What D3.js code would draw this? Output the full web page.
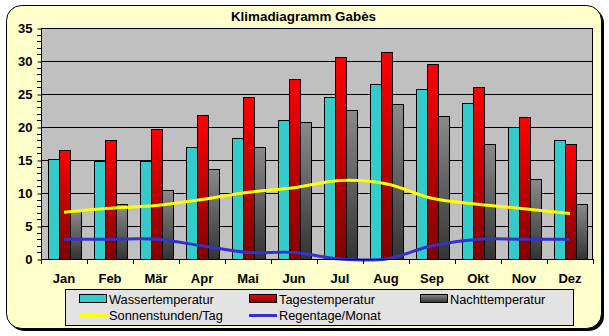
<!DOCTYPE html>
<html>
<head>
<meta charset="utf-8">
<script src="https://cdn.jsdelivr.net/npm/d3@7"></script>
<style>
  html, body { margin: 0; padding: 0; background: #ffffff; }
  svg { display: block; }
  text { font-family: "Liberation Sans", Arial, sans-serif; }
</style>
</head>
<body>
<svg id="chart" width="609" height="336"></svg>
<script>
// Klimadiagramm Gabès – monthly climate values
const months = ["Jan", "Feb", "Mär", "Apr", "Mai", "Jun", "Jul", "Aug", "Sep", "Okt", "Nov", "Dez"];
const wasser = [15.2, 14.9, 14.9, 17.0, 18.3, 21.1, 24.5, 26.5, 25.8, 23.7, 20.0, 18.0];
const tages  = [16.5, 18.0, 19.7, 21.8, 24.5, 27.3, 30.6, 31.4, 29.6, 26.1, 21.5, 17.4];
const nacht  = [7.4, 8.4, 10.5, 13.6, 17.0, 20.8, 22.6, 23.5, 21.7, 17.4, 12.1, 8.3];
const sonne  = [7.1, 7.7, 8.1, 9.0, 10.1, 10.8, 11.9, 11.4, 9.2, 8.3, 7.6, 6.9];
const regen  = [3, 3, 3, 2, 1, 1, 0, 0, 2, 3, 3, 3];
const yTicks = [0, 5, 10, 15, 20, 25, 30, 35];
const title = "Klimadiagramm Gabès";

const svg = d3.select("#chart");
const defs = svg.append("defs");

// vertical gradients for the red and grey bars
function vGrad(id, top, bottom) {
  const g = defs.append("linearGradient").attr("id", id)
    .attr("x1", 0).attr("y1", 0).attr("x2", 0).attr("y2", 1);
  g.append("stop").attr("offset", "0%").attr("stop-color", top);
  g.append("stop").attr("offset", "100%").attr("stop-color", bottom);
}
vGrad("gradRed", "#ff0000", "#800000");
vGrad("gradGrey", "#8a8a8a", "#333333");

// outer frame with drop shadow
svg.append("rect").attr("x", 9).attr("y", 8).attr("width", 595).attr("height", 323)
  .attr("rx", 15).attr("fill", "#000");
svg.append("rect").attr("x", 6.5).attr("y", 5.5).attr("width", 595).attr("height", 323)
  .attr("rx", 15).attr("fill", "#ffffcc").attr("stroke", "#000").attr("stroke-width", 1);

svg.append("text").attr("x", 303.5).attr("y", 20.5)
  .attr("text-anchor", "middle").attr("font-weight", "bold").attr("font-size", 13.4)
  .text(title);

const plot = { left: 41, right: 593, top: 28, bottom: 259 };

const x = d3.scaleBand().domain(months).range([plot.left, plot.right])
  .paddingInner(13 / 46).paddingOuter(13 / 92);
const xs = d3.scaleBand().domain(["w", "t", "n"]).range([0, x.bandwidth()]).padding(0);
const y = d3.scaleLinear().domain([0, 35]).range([plot.bottom, plot.top]);

// plot background
svg.append("rect").attr("x", plot.left).attr("y", plot.top)
  .attr("width", plot.right - plot.left).attr("height", plot.bottom - plot.top)
  .attr("fill", "#c0c0c0");

// grid lines
svg.append("g").selectAll("line").data(yTicks.slice(1)).join("line")
  .attr("x1", plot.left).attr("x2", plot.right)
  .attr("y1", d => Math.round(y(d)) + 0.5).attr("y2", d => Math.round(y(d)) + 0.5)
  .attr("stroke", "#000").attr("stroke-width", 1);

// bars
const series = [
  { key: "w", values: wasser, fill: "#33cccc" },
  { key: "t", values: tages, fill: "url(#gradRed)" },
  { key: "n", values: nacht, fill: "url(#gradGrey)" }
];
series.forEach(s => {
  svg.append("g").selectAll("rect").data(s.values).join("rect")
    .attr("x", (d, i) => Math.round(x(months[i]) + xs(s.key)) + 0.5)
    .attr("y", d => Math.round(y(d)) + 0.5)
    .attr("width", xs.bandwidth())
    .attr("height", d => Math.round(y(0)) - Math.round(y(d)))
    .attr("fill", s.fill)
    .attr("stroke", "#000").attr("stroke-width", 1);
});

// smoothed lines
const lineGen = d3.line()
  .x((d, i) => x(months[i]) + x.bandwidth() / 2)
  .y(d => y(d))
  .curve(d3.curveCatmullRom.alpha(0));
svg.append("path").datum(sonne).attr("d", lineGen)
  .attr("fill", "none").attr("stroke", "#ffff00").attr("stroke-width", 3);
svg.append("path").datum(regen).attr("d", lineGen)
  .attr("fill", "none").attr("stroke", "#3333cc").attr("stroke-width", 3);

// plot border
svg.append("rect").attr("x", plot.left + 0.5).attr("y", plot.top + 0.5)
  .attr("width", plot.right - plot.left - 1).attr("height", plot.bottom - plot.top)
  .attr("fill", "none").attr("stroke", "#000");

// y axis with minor ticks every unit
const yAxis = d3.axisLeft(y).tickValues(yTicks).tickSize(4).tickPadding(5);
const gy = svg.append("g").attr("transform", `translate(${plot.left + 0.5},0.5)`).call(yAxis);
gy.select(".domain").remove();
gy.selectAll("text").attr("font-size", 13).attr("font-weight", "bold")
  .attr("font-family", "'Liberation Sans', Arial, sans-serif").attr("fill", "#000");
gy.selectAll("line").attr("stroke", "#000");
const minor = d3.range(0, 36).filter(v => v % 5 !== 0);
svg.append("g").selectAll("line").data(minor).join("line")
  .attr("x1", plot.left - 4).attr("x2", plot.left)
  .attr("y1", d => Math.round(y(d)) + 0.5).attr("y2", d => Math.round(y(d)) + 0.5)
  .attr("stroke", "#000");

// x axis: ticks on category boundaries, labels centered
const bounds = d3.range(0, 13).map(i => plot.left + i * x.step());
svg.append("g").selectAll("line").data(bounds).join("line")
  .attr("x1", d => Math.round(d) + 0.5).attr("x2", d => Math.round(d) + 0.5)
  .attr("y1", plot.bottom).attr("y2", plot.bottom + 5)
  .attr("stroke", "#000");
svg.append("line").attr("x1", plot.left).attr("x2", plot.right)
  .attr("y1", plot.bottom + 0.5).attr("y2", plot.bottom + 0.5).attr("stroke", "#000");
svg.append("g").selectAll("text").data(months).join("text")
  .attr("x", d => x(d) + x.bandwidth() / 2)
  .attr("y", 283)
  .attr("text-anchor", "middle").attr("font-weight", "bold").attr("font-size", 13)
  .text(d => d);

// legend
const legend = svg.append("g");
legend.append("rect").attr("x", 65.5).attr("y", 289.5).attr("width", 508).attr("height", 36)
  .attr("fill", "#e3e3e3").attr("stroke", "#000");
const legendItems = [
  { label: "Wassertemperatur", type: "rect", fill: "#33cccc", x: 79, row: 0 },
  { label: "Tagestemperatur", type: "rect", fill: "url(#gradRed)", x: 249, row: 0 },
  { label: "Nachttemperatur", type: "rect", fill: "url(#gradGrey)", x: 420, row: 0 },
  { label: "Sonnenstunden/Tag", type: "line", stroke: "#ffff00", x: 79, row: 1 },
  { label: "Regentage/Monat", type: "line", stroke: "#3333cc", x: 249, row: 1 }
];
legendItems.forEach(it => {
  const cy = it.row === 0 ? 299 : 315.5;
  if (it.type === "rect") {
    legend.append("rect").attr("x", it.x + 0.5).attr("y", cy - 4.5)
      .attr("width", 27).attr("height", 8)
      .attr("fill", it.fill).attr("stroke", "#000");
  } else {
    legend.append("line").attr("x1", it.x).attr("x2", it.x + 28)
      .attr("y1", cy).attr("y2", cy)
      .attr("stroke", it.stroke).attr("stroke-width", 3);
  }
  legend.append("text").attr("x", it.x + 30).attr("y", cy + 4.5)
    .attr("font-size", 12.8).text(it.label);
});
</script>
</body>
</html>
